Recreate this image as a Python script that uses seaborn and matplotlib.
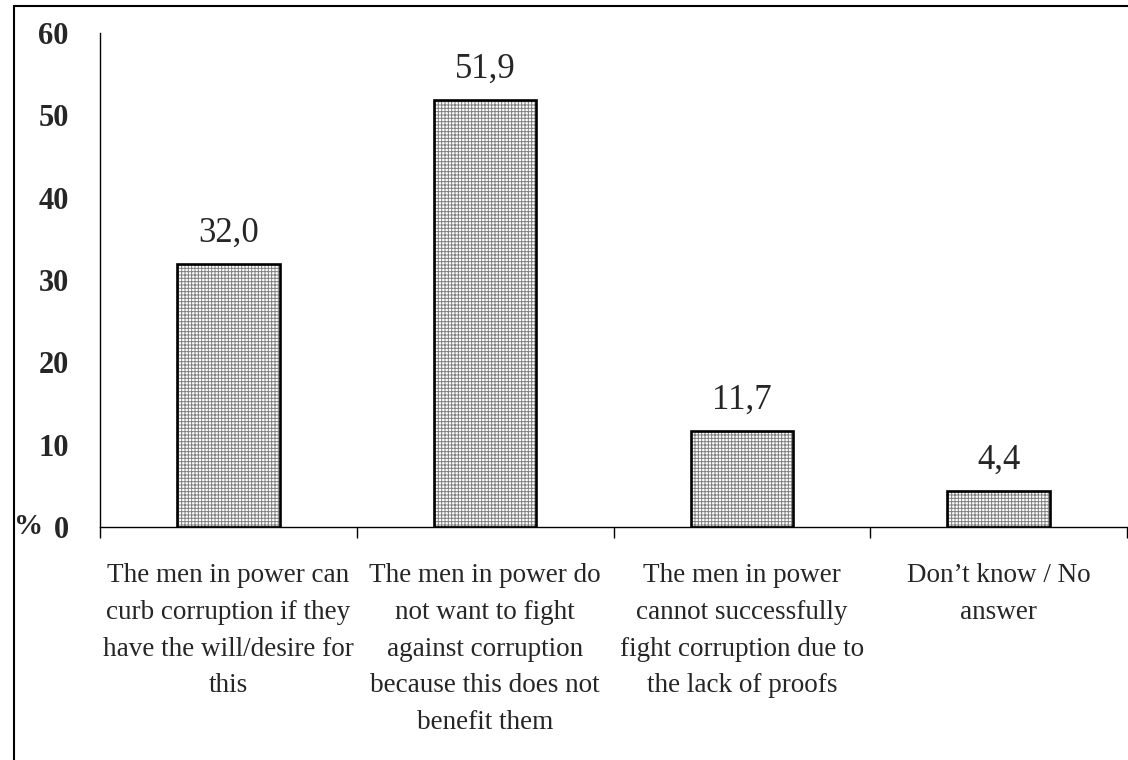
import matplotlib
matplotlib.use("Agg")
import matplotlib.pyplot as plt
from matplotlib.patches import Rectangle
from matplotlib.ticker import FixedLocator
import seaborn as sns
import pandas as pd

categories = [
    "The men in power can\ncurb corruption if they\nhave the will/desire for\nthis",
    "The men in power do\nnot want to fight\nagainst corruption\nbecause this does not\nbenefit them",
    "The men in power\ncannot successfully\nfight corruption due to\nthe lack of proofs",
    "Don\u2019t know / No\nanswer",
]
values = [32.0, 51.9, 11.7, 4.4]
value_labels = ["32,0", "51,9", "11,7", "4,4"]
y_ticks = [0, 10, 20, 30, 40, 50, 60]

sns.set_style("white")
plt.rcParams["font.family"] = ["Liberation Serif", "DejaVu Serif"]
plt.rcParams["hatch.linewidth"] = 0.7

df = pd.DataFrame({"category": categories, "value": values})

fig = plt.figure(figsize=(11.28, 7.6), dpi=100)
ax = fig.add_axes([100 / 1128, 233 / 760, 1027 / 1128, 494 / 760])

# hatched fill
sns.barplot(data=df, x="category", y="value", ax=ax, color="white",
            width=0.4, edgecolor="#808080", hatch="+++++", linewidth=0,
            errorbar=None)
# solid outline on top
sns.barplot(data=df, x="category", y="value", ax=ax, color="black",
            width=0.4, fill=False, linewidth=1.9, errorbar=None)

ax.set_xlim(-0.5, 3.5)
ax.set_ylim(0, 60)
ax.set_xlabel("")
ax.set_ylabel("")

for spine in ["top", "right"]:
    ax.spines[spine].set_visible(False)
for spine in ["left", "bottom"]:
    ax.spines[spine].set_color("black")
    ax.spines[spine].set_linewidth(1.0)

ax.set_yticks(y_ticks)
ax.set_yticklabels([str(t) for t in y_ticks], fontsize=22, fontweight="bold")
ax.tick_params(axis="y", direction="out", length=8, width=1, color="black", pad=14.5)

ax.set_xticks(range(len(categories)))
ax.set_xticklabels(categories, fontsize=19.5, linespacing=1.62, va="top")
ax.tick_params(axis="x", which="major", length=0, pad=26)
ax.xaxis.set_minor_locator(FixedLocator([-0.5, 0.5, 1.5, 2.5, 3.5]))
ax.tick_params(axis="x", which="minor", direction="out", length=8, width=1,
               color="black", bottom=True)

# value annotations above each bar
for i, (v, lab) in enumerate(zip(values, value_labels)):
    ax.annotate(lab, xy=(i, v), xytext=(0, 10), textcoords="offset points",
                ha="center", va="bottom", fontsize=25)

# percent marker next to the zero tick
ax.annotate("%", xy=(0, 0), xycoords=("figure pixels", "data"),
            xytext=(14, 0), textcoords="offset pixels",
            ha="left", va="center", fontsize=21, fontweight="bold")

# outer frame
fig.patches.append(Rectangle((13.5 / 1128, -0.05), 1.2, 1.05 - 6 / 760,
                             transform=fig.transFigure, fill=False,
                             edgecolor="black", linewidth=1.5))

fig.savefig("out.png", dpi=100)
